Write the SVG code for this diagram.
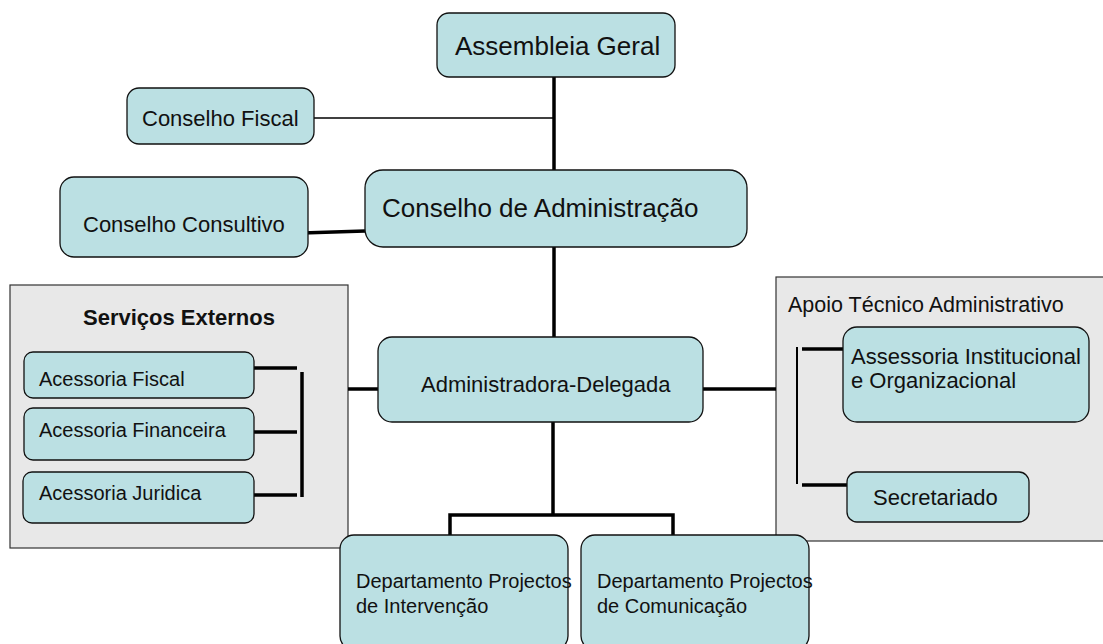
<svg xmlns="http://www.w3.org/2000/svg" width="1103" height="644" viewBox="0 0 1103 644">
<style>
.node{fill:#bbe0e3;stroke:#111;stroke-width:1.3}
.grp{fill:#e8e8e8;stroke:#333;stroke-width:1.2}
.t{font-family:"Liberation Sans",Arial,sans-serif;fill:#111}
.thick{stroke:#000;stroke-width:3.5;fill:none}
.thin{stroke:#000;stroke-width:1.6;fill:none}
.mid{stroke:#000;stroke-width:2;fill:none}
</style>
<rect width="1103" height="644" fill="#fff"/>
<g id="servicos-externos">
<rect class="grp" x="10" y="285" width="338" height="263"/>
<text class="t" x="83" y="325" font-size="22" font-weight="bold">Serviços Externos</text>
</g>
<g id="apoio-tecnico">
<rect class="grp" x="776" y="277" width="340" height="264"/>
<text class="t" x="788" y="312" font-size="21.5">Apoio Técnico Administrativo</text>
</g>
<g id="connectors">
<line class="thick" x1="554" y1="77" x2="554" y2="170"/>
<line class="thin" x1="314" y1="118" x2="554" y2="118"/>
<line class="thick" x1="302" y1="233" x2="365" y2="231"/>
<line class="thick" x1="554" y1="247" x2="554" y2="337"/>
<line class="thick" x1="348" y1="389" x2="378" y2="389"/>
<line class="thick" x1="703" y1="389" x2="776" y2="389"/>
<line class="thick" x1="553" y1="422" x2="553" y2="515"/>
<polyline class="thick" points="450,536 450,515 673,515 673,536"/>
<line class="thick" x1="254" y1="368" x2="297" y2="368"/>
<line class="thick" x1="254" y1="432" x2="297" y2="432"/>
<line class="thick" x1="254" y1="495" x2="297" y2="495"/>
<line class="thick" x1="302" y1="372" x2="302" y2="497"/>
<line class="mid" x1="797" y1="347" x2="797" y2="484"/>
<line class="thick" x1="802" y1="349" x2="843" y2="349"/>
<line class="thick" x1="802" y1="485" x2="847" y2="485"/>
</g>
<g id="assembleia-geral">
<rect class="node" x="437" y="13" width="238" height="64" rx="12"/>
<text class="t" x="455" y="55" font-size="26">Assembleia Geral</text>
</g>
<g id="conselho-fiscal">
<rect class="node" x="127" y="88" width="187" height="56" rx="12"/>
<text class="t" x="142" y="126" font-size="22">Conselho Fiscal</text>
</g>
<g id="conselho-consultivo">
<rect class="node" x="60" y="177" width="248" height="80" rx="14"/>
<text class="t" x="83" y="232" font-size="22">Conselho Consultivo</text>
</g>
<g id="conselho-administracao">
<rect class="node" x="365" y="170" width="382" height="77" rx="18"/>
<text class="t" x="382" y="217" font-size="26">Conselho de Administração</text>
</g>
<g id="administradora-delegada">
<rect class="node" x="378" y="337" width="325" height="85" rx="14"/>
<text class="t" x="421" y="392" font-size="22">Administradora-Delegada</text>
</g>
<g id="acessoria-fiscal">
<rect class="node" x="24" y="352" width="230" height="46" rx="9"/>
<text class="t" x="39" y="386" font-size="20">Acessoria Fiscal</text>
</g>
<g id="acessoria-financeira">
<rect class="node" x="24" y="408" width="230" height="52" rx="9"/>
<text class="t" x="39" y="437" font-size="20">Acessoria Financeira</text>
</g>
<g id="acessoria-juridica">
<rect class="node" x="23" y="472" width="231" height="51" rx="9"/>
<text class="t" x="39" y="500" font-size="20">Acessoria Juridica</text>
</g>
<g id="assessoria-institucional">
<rect class="node" x="843" y="327" width="246" height="95" rx="14"/>
<text class="t" font-size="22"><tspan x="851" y="364">Assessoria Institucional</tspan><tspan x="851" y="388">e Organizacional</tspan></text>
</g>
<g id="secretariado">
<rect class="node" x="847" y="472" width="182" height="50" rx="10"/>
<text class="t" x="873" y="505" font-size="22">Secretariado</text>
</g>
<g id="dep-intervencao">
<rect class="node" x="340" y="535" width="228" height="115" rx="14"/>
<text class="t" font-size="20"><tspan x="356" y="588">Departamento Projectos</tspan><tspan x="356" y="613">de Intervenção</tspan></text>
</g>
<g id="dep-comunicacao">
<rect class="node" x="581" y="535" width="228" height="115" rx="14"/>
<text class="t" font-size="20"><tspan x="597" y="588">Departamento Projectos</tspan><tspan x="597" y="613">de Comunicação</tspan></text>
</g>
</svg>
